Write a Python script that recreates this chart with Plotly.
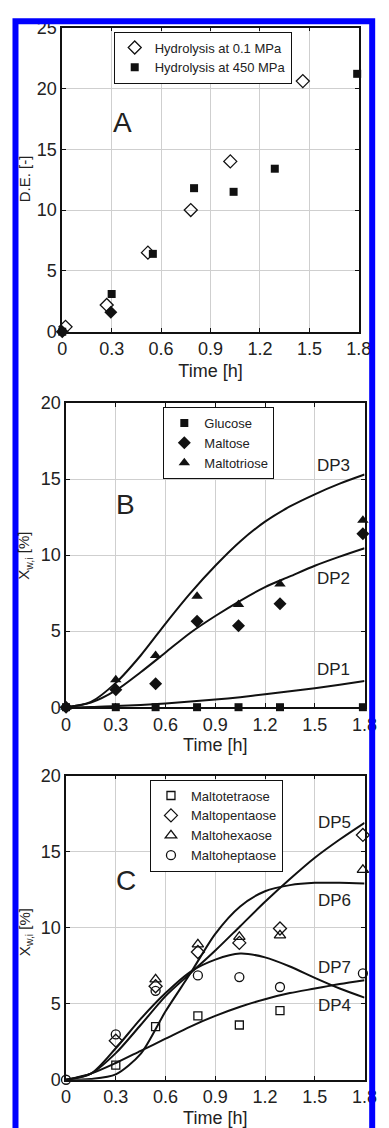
import plotly.graph_objects as go

W, H = 389, 1128

# ---------------- Panel A data ----------------
a_t_01 = [0.02, 0.27, 0.52, 0.78, 1.02, 1.46]
a_de_01 = [0.4, 2.2, 6.5, 10.0, 14.0, 20.6]
a_t_450 = [0.0, 0.30, 0.55, 0.80, 1.04, 1.29, 1.79]
a_de_450 = [0.0, 3.1, 6.4, 11.8, 11.5, 13.4, 21.2]
a_t_extra = [0.0, 0.295]
a_de_extra = [0.0, 1.6]

# ---------------- Panel B data ----------------
b_t = [0.0, 0.30, 0.54, 0.79, 1.04, 1.29, 1.79]
b_glucose = [0, 0, 0, 0, 0, 0, 0]
b_maltose = [0, 1.15, 1.55, 5.65, 5.35, 6.8, 11.4]
b_maltotriose = [0, 1.8, 3.4, 7.3, 6.75, 8.1, 12.3]

model_t = [0, 0.15, 0.30, 0.45, 0.60, 0.75, 0.90, 1.05, 1.20, 1.35, 1.50, 1.65, 1.80]
dp1 = [0, 0.02, 0.08, 0.15, 0.25, 0.37, 0.5, 0.66, 0.85, 1.05, 1.25, 1.48, 1.72]
dp2 = [0, 0.3, 1.1, 2.3, 3.6, 4.9, 6.0, 7.0, 7.9, 8.6, 9.3, 9.9, 10.45]
dp3 = [0, 0.35, 1.6, 3.4, 5.5, 7.5, 9.3, 10.9, 12.2, 13.2, 14.0, 14.7, 15.3]

# ---------------- Panel C data ----------------
c_t_tetra = [0.30, 0.54, 0.795, 1.045, 1.29]
c_tetra = [0.96, 3.5, 4.2, 3.6, 4.55]
c_t_penta = [0.30, 0.54, 0.795, 1.045, 1.29, 1.79]
c_penta = [2.57, 6.15, 8.4, 9.0, 9.95, 16.1]
c_t_hexa = [0.54, 0.795, 1.045, 1.29, 1.79]
c_hexa = [6.6, 8.9, 9.4, 9.5, 13.8]
c_t_hepta = [0.0, 0.30, 0.54, 0.795, 1.045, 1.29, 1.79]
c_hepta = [0, 2.98, 5.85, 6.86, 6.75, 6.1, 7.0]

dp4 = [0, 0.4, 1.1, 1.9, 2.7, 3.5, 4.2, 4.8, 5.3, 5.7, 6.0, 6.3, 6.55]
dp5 = [0, 0.4, 1.75, 3.6, 5.5, 7.0, 8.5, 10.1, 11.7, 13.2, 14.6, 15.8, 16.9]
dp6 = [0, 0.05, 0.35, 1.7, 4.5, 7.0, 9.6, 11.4, 12.4, 12.8, 12.95, 12.95, 12.9]
dp7 = [0, 0.4, 2.07, 4.0, 5.7, 7.1, 7.9, 8.3, 8.05, 7.45, 6.7, 6.0, 5.4]

x_ticks = [0, 0.3, 0.6, 0.9, 1.2, 1.5, 1.8]
x_ticktext = ["0", "0.3", "0.6", "0.9", "1.2", "1.5", "1.8"]

FONT = "Arial, Liberation Sans, Helvetica, sans-serif"
INK = "#111111"
TXT = "#222222"

fig = go.Figure()


def mk(x, y, sym, name, xa, ya, legend, showlegend=True, size=9):
    filled = not sym.endswith("open")
    return go.Scatter(
        x=x, y=y, mode="markers", name=name, xaxis=xa, yaxis=ya,
        legend=legend, showlegend=showlegend, cliponaxis=False,
        marker=dict(symbol=sym, size=size, color=INK,
                    line=dict(color=INK, width=1.3 if not filled else 0)),
    )


def ln(x, y, xa, ya):
    return go.Scatter(x=x, y=y, mode="lines", xaxis=xa, yaxis=ya, showlegend=False,
                      line=dict(color=INK, width=2, shape="spline", smoothing=0.8),
                      hoverinfo="skip")


# Panel A
fig.add_trace(mk(a_t_01, a_de_01, "diamond-open", "Hydrolysis at 0.1 MPa", "x", "y", "legend", size=10))
fig.add_trace(mk(a_t_450, a_de_450, "square", "Hydrolysis at 450 MPa", "x", "y", "legend", size=8))
fig.add_trace(mk(a_t_extra, a_de_extra, "diamond", "extra", "x", "y", "legend", showlegend=False, size=10))

# Panel B
for y in (dp1, dp2, dp3):
    fig.add_trace(ln(model_t, y, "x2", "y2"))
fig.add_trace(mk(b_t, b_glucose, "square", "Glucose", "x2", "y2", "legend2", size=8))
fig.add_trace(mk(b_t, b_maltose, "diamond", "Maltose", "x2", "y2", "legend2", size=10))
fig.add_trace(mk(b_t, b_maltotriose, "triangle-up", "Maltotriose", "x2", "y2", "legend2", size=10))

# Panel C
for y in (dp4, dp5, dp6, dp7):
    fig.add_trace(ln(model_t, y, "x3", "y3"))
fig.add_trace(mk(c_t_tetra, c_tetra, "square-open", "Maltotetraose", "x3", "y3", "legend3", size=8))
fig.add_trace(mk(c_t_penta, c_penta, "diamond-open", "Maltopentaose", "x3", "y3", "legend3", size=10))
fig.add_trace(mk(c_t_hexa, c_hexa, "triangle-up-open", "Maltohexaose", "x3", "y3", "legend3", size=10))
fig.add_trace(mk(c_t_hepta, c_hepta, "circle-open", "Maltoheptaose", "x3", "y3", "legend3", size=9))


def px_x(p):
    return p / W


def px_y(p):
    return 1 - p / H


def xaxis(dom, anchor, standoff):
    return dict(domain=dom, anchor=anchor, range=[0, 1.8], tickvals=x_ticks, ticktext=x_ticktext,
                showgrid=True, gridcolor="#cfcfcf", gridwidth=1, zeroline=False,
                showline=True, linecolor=INK, linewidth=1.5, mirror="ticks",
                ticks="inside", ticklen=4, tickcolor=INK,
                tickfont=dict(family=FONT, size=18, color=TXT),
                title=dict(text="Time [h]", font=dict(family=FONT, size=18, color=TXT), standoff=standoff))


def yaxis(dom, anchor, rng, dtick):
    return dict(domain=dom, anchor=anchor, range=rng, dtick=dtick, tick0=0,
                showgrid=True, gridcolor="#cfcfcf", gridwidth=1, zeroline=False,
                showline=True, linecolor=INK, linewidth=1.5, mirror="ticks",
                ticks="inside", ticklen=4, tickcolor=INK,
                tickfont=dict(family=FONT, size=18, color=TXT))


def legend_at(xp, yp, fs):
    return dict(x=px_x(xp), y=px_y(yp), bgcolor="white", bordercolor=INK, borderwidth=1,
                font=dict(family=FONT, size=fs, color=TXT), itemwidth=30,
                xanchor="left", yanchor="top", tracegroupgap=0)


fig.update_layout(
    width=W, height=H, margin=dict(l=0, r=0, t=0, b=0),
    paper_bgcolor="white", plot_bgcolor="white",
    xaxis=xaxis([px_x(60), px_x(371)], "y", 6),
    yaxis=yaxis([px_y(329), px_y(18)], "x", [0, 25], 5),
    xaxis2=xaxis([px_x(64), px_x(377)], "y2", 4),
    yaxis2=yaxis([px_y(713), px_y(402)], "x2", [0, 20], 5),
    xaxis3=xaxis([px_x(64), px_x(377)], "y3", 8),
    yaxis3=yaxis([px_y(1094), px_y(783)], "x3", [0, 20], 5),
    legend=legend_at(114, 22, 13),
    legend2=legend_at(166, 406, 13),
    legend3=legend_at(152, 787, 13),
    showlegend=True,
)

# Y-axis titles placed as rotated annotations
ytitles = [
    (20, 173, "D.E. [-]"),
    (21, 558, "X<sub>w,i</sub> [%]"),
    (21, 943, "X<sub>w,i</sub> [%]"),
]
for xp, yp, txt in ytitles:
    fig.add_annotation(x=px_x(xp), y=px_y(yp), xref="paper", yref="paper", text=txt,
                       showarrow=False, textangle=-90, xanchor="center", yanchor="middle",
                       font=dict(family=FONT, size=15, color=TXT))

# Text labels
labels = [
    ("x", "y", 0.365, 17.2, "A", 28, "center"),
    ("x2", "y2", 0.357, 13.3, "B", 28, "center"),
    ("x3", "y3", 0.36, 13.1, "C", 28, "center"),
    ("x2", "y2", 1.50, 15.9, "DP3", 17, "left"),
    ("x2", "y2", 1.50, 8.45, "DP2", 17, "left"),
    ("x2", "y2", 1.50, 2.45, "DP1", 17, "left"),
    ("x3", "y3", 1.505, 16.9, "DP5", 17, "left"),
    ("x3", "y3", 1.505, 11.8, "DP6", 17, "left"),
    ("x3", "y3", 1.505, 7.4, "DP7", 17, "left"),
    ("x3", "y3", 1.505, 4.87, "DP4", 17, "left"),
]
for xr, yr, xv, yv, txt, fs, anc in labels:
    fig.add_annotation(x=xv, y=yv, xref=xr, yref=yr, text=txt, showarrow=False,
                       xanchor=anc, yanchor="middle",
                       font=dict(family=FONT, size=fs, color=TXT))

# Blue frame around the figure
fig.add_shape(type="rect", xref="paper", yref="paper",
              x0=px_x(11), x1=px_x(385), y0=px_y(1150), y1=px_y(11.5),
              line=dict(color="#0000FF", width=6), fillcolor="rgba(0,0,0,0)", layer="above")

page_js = ("document.documentElement.style.margin='0';document.body.style.margin='0';"
           "document.body.style.padding='0';document.documentElement.style.overflow='hidden';"
           "document.body.style.overflow='hidden';")

fig.write_html("out.html", post_script=page_js, config={"displayModeBar": False})
